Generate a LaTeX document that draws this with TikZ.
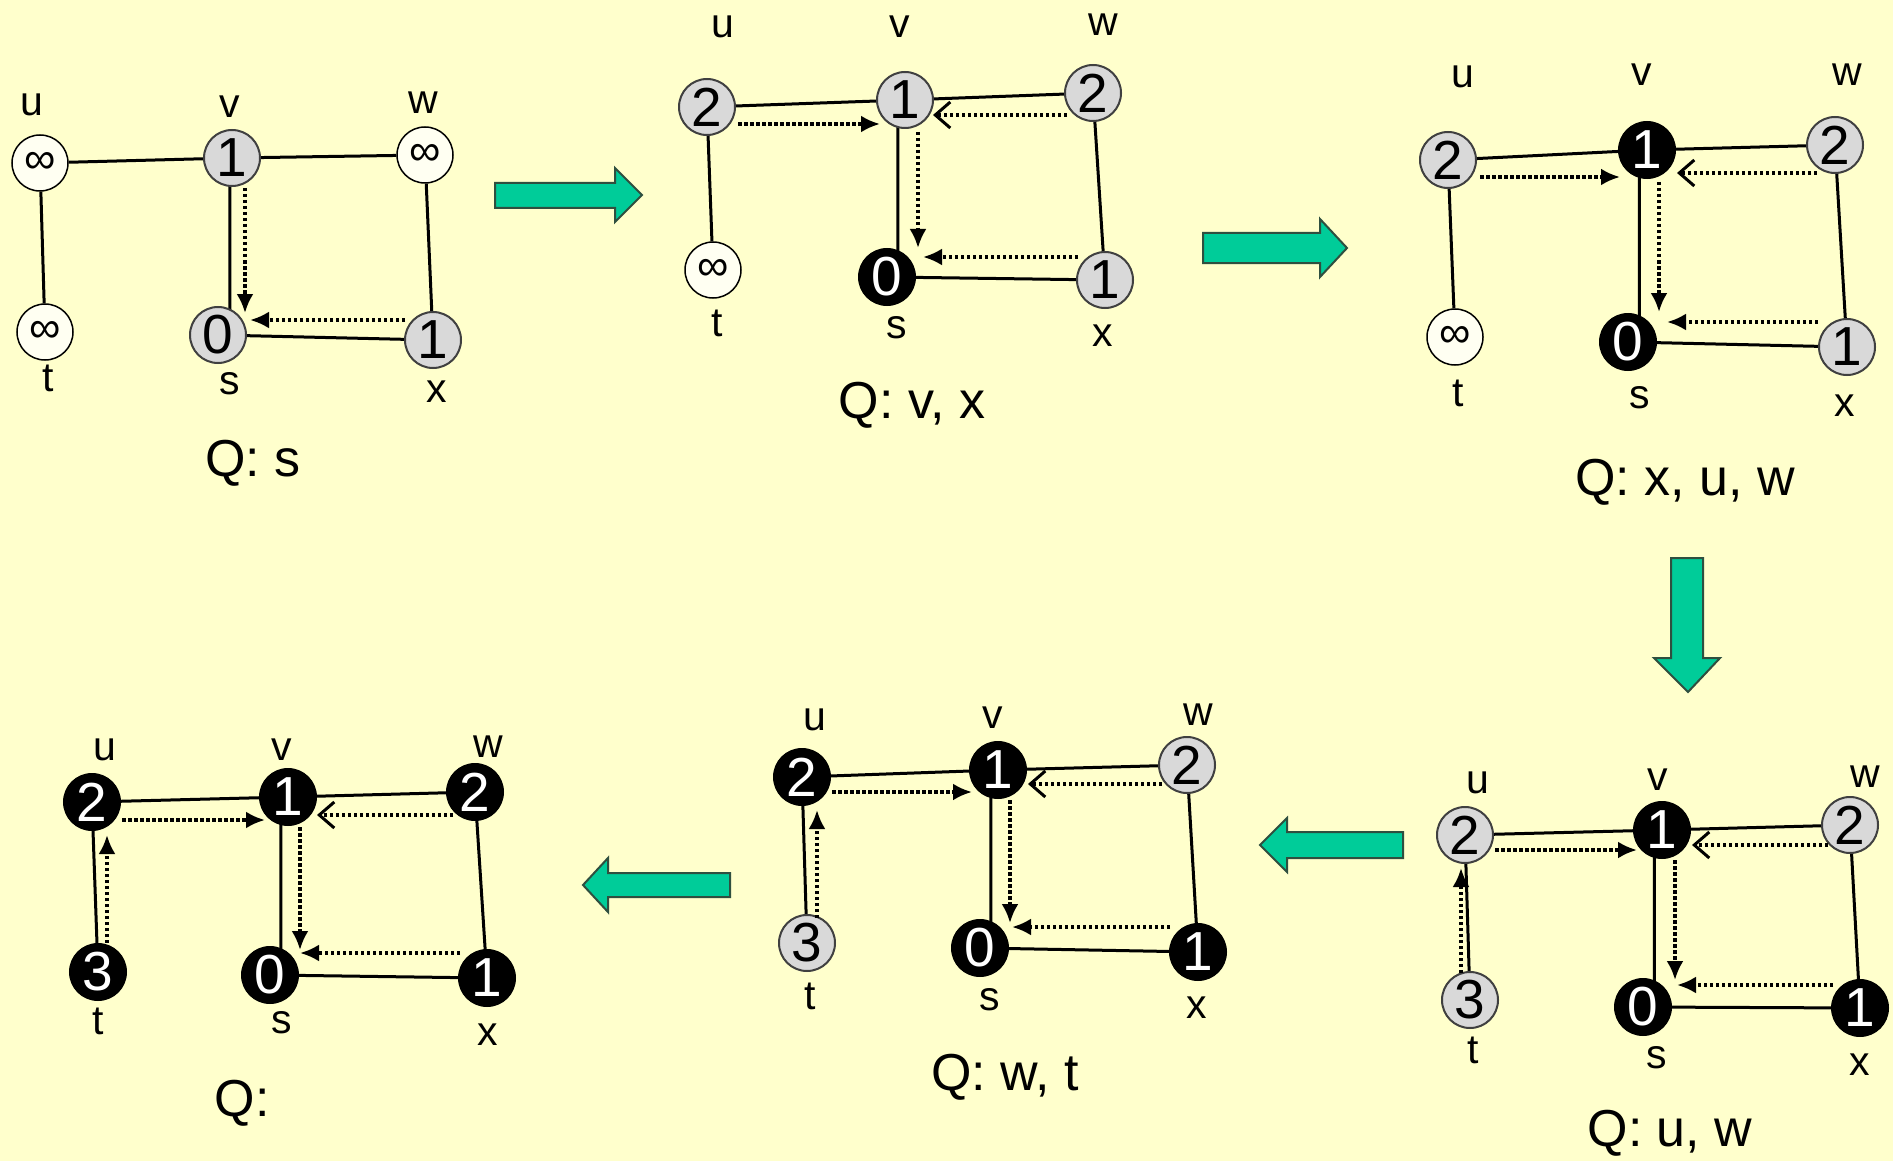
\documentclass[tikz,border=0pt]{standalone}
\usepackage{fontspec}
\setmainfont{Liberation Sans}
\usetikzlibrary{arrows.meta,calc}
\pgfdeclarelayer{background}
\pgfsetlayers{background,main}
\definecolor{bg}{HTML}{FFFFCC}
\definecolor{nodegrey}{HTML}{D9D9D9}
\definecolor{nodewhite}{HTML}{FFFFF2}
\definecolor{darkgrey}{HTML}{404040}
\definecolor{arrowgreen}{HTML}{00CC99}
\definecolor{arrowedge}{HTML}{2F4F3F}
\newcommand\numfont{\fontsize{55}{55}\selectfont}
\newcommand\inffont{\fontsize{44}{44}\selectfont}
\newcommand\labfont{\fontsize{41}{41}\selectfont}
\newcommand\qfont{\fontsize{52}{52}\selectfont}
\begin{document}
\begin{tikzpicture}[x=1pt,y=-1pt,
  base/.style={circle, minimum size=56pt, inner sep=0pt, line width=2pt, font=\numfont},
  wn/.style={base, draw=black, fill=nodewhite, line width=1.5pt, font=\inffont},
  gn/.style={base, draw=darkgrey, fill=nodegrey},
  bn/.style={base, draw=black, fill=black, text=white},
  lab/.style={font=\labfont, inner sep=0pt},
  qlab/.style={font=\qfont, inner sep=0pt},
  edge/.style={line width=3pt, black},
  tree/.style={line width=3.5pt, dash pattern=on 3.5pt off 2.5pt, -{Latex[length=19pt,width=17pt]}},
  treeo/.style={line width=3.5pt, dash pattern=on 3.5pt off 2.5pt, -{Straight Barb[length=15pt,width=26pt,line width=3pt]}},
  bigarr/.style={fill=arrowgreen, draw=arrowedge, line width=2pt, line join=miter}
]
\begin{pgfonlayer}{background}
\fill[bg] (0,0) rectangle (1893,1161);
\end{pgfonlayer}
\useasboundingbox (0,0) rectangle (1893,1161);

% ---------- Panel 1 ----------
\node[wn] (p1u) at (40,163) {∞};
\node[gn] (p1v) at (232,158) {1};
\node[wn] (p1w) at (425,155) {∞};
\node[wn] (p1t) at (45,332) {∞};
\node[gn] (p1s) at (218,335) {0};
\node[gn] (p1x) at (433,340) {1};
\node[lab] (p1lu) at (32,105) {u};
\node[lab] (p1lv) at (230,107) {v};
\node[lab] (p1lw) at (423,103) {w};
\node[lab] (p1lt) at (48,378) {t};
\node[lab] (p1ls) at (230,384) {s};
\node[lab] (p1lx) at (437,392) {x};
\node[qlab] (p1q) at (253,463) {Q: s};
\coordinate (p1m) at ($(p1s)!0.85!(p1v)$);
\begin{pgfonlayer}{background}
\draw[edge] (p1u) -- (p1v) (p1v) -- (p1w) (p1u) -- (p1t) (p1w) -- (p1x) (p1s) -- (p1x)
  (p1m |- p1v) -- (p1m |- p1s);
\end{pgfonlayer}
\draw[tree] ($(p1v)+(13,30)$) -- ($(p1s)+(27,-22)$);
\draw[tree] ($(p1x)+(-28,-20)$) -- ($(p1s)+(32,-15)$);

% ---------- Panel 2 ----------
\node[gn] (p2u) at (707,107) {2};
\node[gn] (p2v) at (905,100) {1};
\node[gn] (p2w) at (1093,93) {2};
\node[wn] (p2t) at (713,270) {∞};
\node[bn] (p2s) at (887,277) {0};
\node[gn] (p2x) at (1105,280) {1};
\node[lab] (p2lu) at (723,27) {u};
\node[lab] (p2lv) at (900,27) {v};
\node[lab] (p2lw) at (1103,25) {w};
\node[lab] (p2lt) at (717,323) {t};
\node[lab] (p2ls) at (897,328) {s};
\node[lab] (p2lx) at (1103,336) {x};
\node[qlab] (p2q) at (912,405) {Q: v, x};
\coordinate (p2m) at ($(p2s)!0.6!(p2v)$);
\begin{pgfonlayer}{background}
\draw[edge] (p2u) -- (p2v) (p2v) -- (p2w) (p2u) -- (p2t) (p2w) -- (p2x) (p2s) -- (p2x)
  (p2m |- p2v) -- (p2m |- p2s);
\end{pgfonlayer}
\draw[tree] ($(p2u)+(31,17)$) -- ($(p2v)+(-25,24)$);
\draw[treeo] ($(p2w)+(-26,22)$) -- ($(p2v)+(28,15)$);
\draw[tree] ($(p2v)+(13,32)$) -- ($(p2s)+(31,-29)$);
\draw[tree] ($(p2x)+(-27,-23)$) -- ($(p2s)+(36,-20)$);

% ---------- Panel 3 ----------
\node[gn] (p3u) at (1448,160) {2};
\node[bn] (p3v) at (1647,150) {1};
\node[gn] (p3w) at (1835,145) {2};
\node[wn] (p3t) at (1455,337) {∞};
\node[bn] (p3s) at (1628,342) {0};
\node[gn] (p3x) at (1847,347) {1};
\node[lab] (p3lu) at (1463,77) {u};
\node[lab] (p3lv) at (1642,75) {v};
\node[lab] (p3lw) at (1847,75) {w};
\node[lab] (p3lt) at (1458,393) {t};
\node[lab] (p3ls) at (1640,398) {s};
\node[lab] (p3lx) at (1845,406) {x};
\node[qlab] (p3q) at (1685,482) {Q: x, u, w};
\coordinate (p3m) at ($(p3s)!0.6!(p3v)$);
\begin{pgfonlayer}{background}
\draw[edge] (p3u) -- (p3v) (p3v) -- (p3w) (p3u) -- (p3t) (p3w) -- (p3x) (p3s) -- (p3x)
  (p3m |- p3v) -- (p3m |- p3s);
\end{pgfonlayer}
\draw[tree] ($(p3u)+(32,17)$) -- ($(p3v)+(-27,27)$);
\draw[treeo] ($(p3w)+(-18,28)$) -- ($(p3v)+(30,23)$);
\draw[tree] ($(p3v)+(12,32)$) -- ($(p3s)+(31,-30)$);
\draw[tree] ($(p3x)+(-29,-25)$) -- ($(p3s)+(39,-20)$);

% ---------- Panel 4 (bottom right) ----------
\node[gn] (p4u) at (1465,835) {2};
\node[bn] (p4v) at (1662,830) {1};
\node[gn] (p4w) at (1850,825) {2};
\node[gn] (p4t) at (1470,1000) {3};
\node[bn] (p4s) at (1643,1007) {0};
\node[bn] (p4x) at (1860,1008) {1};
\node[lab] (p4lu) at (1478,783) {u};
\node[lab] (p4lv) at (1658,780) {v};
\node[lab] (p4lw) at (1865,777) {w};
\node[lab] (p4lt) at (1473,1050) {t};
\node[lab] (p4ls) at (1657,1058) {s};
\node[lab] (p4lx) at (1860,1065) {x};
\node[qlab] (p4q) at (1670,1133) {Q: u, w};
\coordinate (p4m) at ($(p4s)!0.6!(p4v)$);
\begin{pgfonlayer}{background}
\draw[edge] (p4u) -- (p4v) (p4v) -- (p4w) (p4u) -- (p4t) (p4w) -- (p4x) (p4s) -- (p4x)
  (p4m |- p4v) -- (p4m |- p4s);
\end{pgfonlayer}
\draw[tree] ($(p4u)+(30,15)$) -- ($(p4v)+(-25,20)$);
\draw[treeo] ($(p4w)+(-22,20)$) -- ($(p4v)+(30,15)$);
\draw[tree] ($(p4v)+(13,30)$) -- ($(p4s)+(32,-27)$);
\draw[tree] ($(p4x)+(-27,-23)$) -- ($(p4s)+(34,-22)$);
\draw[tree] ($(p4t)+(-9,-27)$) -- ($(p4u)+(-4,33)$);

% ---------- Panel 5 (bottom middle) ----------
\node[bn] (p5u) at (802,777) {2};
\node[bn] (p5v) at (998,770) {1};
\node[gn] (p5w) at (1187,765) {2};
\node[gn] (p5t) at (807,943) {3};
\node[bn] (p5s) at (980,948) {0};
\node[bn] (p5x) at (1198,952) {1};
\node[lab] (p5lu) at (815,720) {u};
\node[lab] (p5lv) at (993,718) {v};
\node[lab] (p5lw) at (1198,715) {w};
\node[lab] (p5lt) at (810,996) {t};
\node[lab] (p5ls) at (990,1000) {s};
\node[lab] (p5lx) at (1197,1008) {x};
\node[qlab] (p5q) at (1005,1077) {Q: w, t};
\coordinate (p5m) at ($(p5s)!0.6!(p5v)$);
\begin{pgfonlayer}{background}
\draw[edge] (p5u) -- (p5v) (p5v) -- (p5w) (p5u) -- (p5t) (p5w) -- (p5x) (p5s) -- (p5x)
  (p5m |- p5v) -- (p5m |- p5s);
\end{pgfonlayer}
\draw[tree] ($(p5u)+(30,15)$) -- ($(p5v)+(-26,22)$);
\draw[treeo] ($(p5w)+(-25,19)$) -- ($(p5v)+(30,14)$);
\draw[tree] ($(p5v)+(12,30)$) -- ($(p5s)+(30,-25)$);
\draw[tree] ($(p5x)+(-28,-25)$) -- ($(p5s)+(32,-21)$);
\draw[tree] ($(p5t)+(10,-25)$) -- ($(p5u)+(15,33)$);

% ---------- Panel 6 (bottom left) ----------
\node[bn] (p6u) at (92,802) {2};
\node[bn] (p6v) at (288,797) {1};
\node[bn] (p6w) at (475,792) {2};
\node[bn] (p6t) at (98,972) {3};
\node[bn] (p6s) at (270,975) {0};
\node[bn] (p6x) at (487,978) {1};
\node[lab] (p6lu) at (105,750) {u};
\node[lab] (p6lv) at (282,750) {v};
\node[lab] (p6lw) at (488,747) {w};
\node[lab] (p6lt) at (98,1021) {t};
\node[lab] (p6ls) at (282,1023) {s};
\node[lab] (p6lx) at (488,1035) {x};
\node[qlab] (p6q) at (242,1103) {Q:};
\coordinate (p6m) at ($(p6s)!0.6!(p6v)$);
\begin{pgfonlayer}{background}
\draw[edge] (p6u) -- (p6v) (p6v) -- (p6w) (p6u) -- (p6t) (p6w) -- (p6x) (p6s) -- (p6x)
  (p6m |- p6v) -- (p6m |- p6s);
\end{pgfonlayer}
\draw[tree] ($(p6u)+(30,18)$) -- ($(p6v)+(-23,23)$);
\draw[treeo] ($(p6w)+(-22,23)$) -- ($(p6v)+(29,18)$);
\draw[tree] ($(p6v)+(12,30)$) -- ($(p6s)+(30,-25)$);
\draw[tree] ($(p6x)+(-27,-25)$) -- ($(p6s)+(30,-22)$);
\draw[tree] ($(p6t)+(9,-29)$) -- ($(p6u)+(15,33)$);

% ---------- Big arrows between panels ----------
\draw[bigarr] (495,183) -- (615,183) -- (615,168) -- (642,195) -- (615,222) -- (615,208) -- (495,208) -- cycle;
\draw[bigarr] (1203,233) -- (1320,233) -- (1320,219) -- (1347,248) -- (1320,277) -- (1320,263) -- (1203,263) -- cycle;
\draw[bigarr] (1671,558) -- (1703,558) -- (1703,658) -- (1720,658) -- (1688,692) -- (1654,658) -- (1671,658) -- cycle;
\draw[bigarr] (1403,832) -- (1287,832) -- (1287,818) -- (1260,845) -- (1287,872) -- (1287,858) -- (1403,858) -- cycle;
\draw[bigarr] (730,873) -- (608,873) -- (608,858) -- (583,885) -- (608,912) -- (608,897) -- (730,897) -- cycle;
\end{tikzpicture}
\end{document}
